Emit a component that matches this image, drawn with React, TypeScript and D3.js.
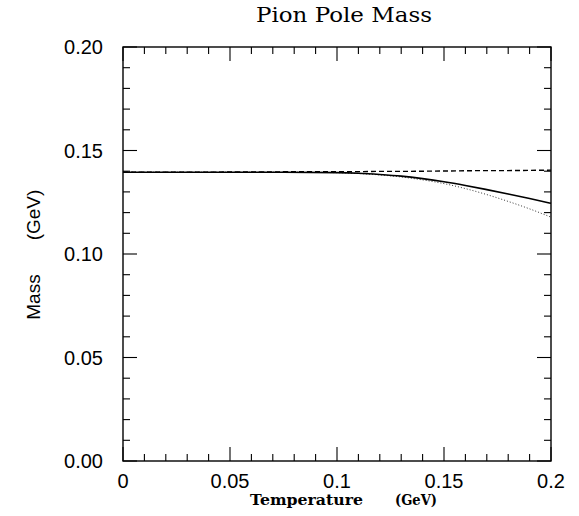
import React, { useEffect, useRef } from 'react';
import * as d3 from 'd3';

const temps = [0, 0.025, 0.05, 0.075, 0.1, 0.11, 0.12, 0.13, 0.14, 0.15, 0.16, 0.17, 0.18, 0.19, 0.2];
const solidMass = [0.1395, 0.1395, 0.1395, 0.1395, 0.1393, 0.139, 0.1384, 0.1376, 0.1364, 0.1349, 0.1331, 0.1311, 0.129, 0.1268, 0.1245];
const dottedMass = [0.1395, 0.1395, 0.1395, 0.1395, 0.1393, 0.1389, 0.1382, 0.1372, 0.1358, 0.134, 0.1316, 0.1287, 0.1254, 0.1218, 0.1178];
const dashedMass = [0.1395, 0.1395, 0.1396, 0.1397, 0.1398, 0.1398, 0.1399, 0.1399, 0.14, 0.1401, 0.1402, 0.1403, 0.1403, 0.1404, 0.1405];
const xTicks = [0, 0.05, 0.1, 0.15, 0.2];
const xTickLabels = ['0', '0.05', '0.1', '0.15', '0.2'];
const yTicks = [0, 0.05, 0.1, 0.15, 0.2];
const yTickLabels = ['0.00', '0.05', '0.10', '0.15', '0.20'];

export default function App() {
  const ref = useRef<SVGSVGElement>(null);

  useEffect(() => {
    const svg = d3.select(ref.current);
    svg.selectAll('*').remove();
    const left = 123, right = 551, top = 47, bottom = 461;
    const x = d3.scaleLinear().domain([0, 0.2]).range([left, right]);
    const y = d3.scaleLinear().domain([0, 0.2]).range([bottom, top]);
    const serif = '"DejaVu Serif", "Liberation Serif", serif';
    const sans = '"Liberation Sans", Arial, sans-serif';

    // frame
    svg.append('rect')
      .attr('x', left).attr('y', top)
      .attr('width', right - left).attr('height', bottom - top)
      .attr('fill', 'none').attr('stroke', '#000').attr('stroke-width', 1.4);

    const minor = d3.range(0, 21).map(i => i * 0.01);
    const g = svg.append('g').attr('stroke', '#000').attr('stroke-width', 1.1);
    minor.forEach((v, i) => {
      const len = i % 5 === 0 ? 14 : 7;
      g.append('line').attr('x1', x(v)).attr('x2', x(v)).attr('y1', bottom).attr('y2', bottom - len);
      g.append('line').attr('x1', x(v)).attr('x2', x(v)).attr('y1', top).attr('y2', top + len);
      g.append('line').attr('y1', y(v)).attr('y2', y(v)).attr('x1', left).attr('x2', left + len);
      g.append('line').attr('y1', y(v)).attr('y2', y(v)).attr('x1', right).attr('x2', right - len);
    });

    svg.selectAll('.xl').data(xTicks).enter().append('text')
      .attr('x', d => x(d)).attr('y', 488)
      .attr('text-anchor', 'middle')
      .attr('font-family', sans)
      .attr('font-size', 20)
      .text((d, i) => xTickLabels[i]);

    svg.selectAll('.yl').data(yTicks).enter().append('text')
      .attr('x', 103).attr('y', d => y(d) + 7)
      .attr('text-anchor', 'end')
      .attr('font-family', sans)
      .attr('font-size', 20)
      .text((d, i) => yTickLabels[i]);

    const line = d3.line<number>()
      .x((d, i) => x(temps[i]))
      .y(d => y(d))
      .curve(d3.curveMonotoneX);

    svg.append('path').datum(dottedMass).attr('d', line)
      .attr('fill', 'none').attr('stroke', '#000').attr('stroke-width', 0.8)
      .attr('stroke-dasharray', '1,2');
    svg.append('path').datum(dashedMass).attr('d', line)
      .attr('fill', 'none').attr('stroke', '#000').attr('stroke-width', 1.4)
      .attr('stroke-dasharray', '5,3');
    svg.append('path').datum(solidMass).attr('d', line)
      .attr('fill', 'none').attr('stroke', '#000').attr('stroke-width', 1.6);

    svg.append('text')
      .attr('x', 256).attr('y', 22)
      .attr('font-family', serif)
      .attr('font-size', 20)
      .attr('textLength', 176)
      .attr('lengthAdjust', 'spacingAndGlyphs')
      .text('Pion Pole Mass');

    // y-axis title
    svg.append('text')
      .attr('transform', 'translate(40,297) rotate(-90)')
      .attr('text-anchor', 'middle')
      .attr('font-family', sans)
      .attr('font-size', 19)
      .text('Mass');
    svg.append('text')
      .attr('transform', 'translate(40,215) rotate(-90)')
      .attr('text-anchor', 'middle')
      .attr('font-family', sans)
      .attr('font-size', 19)
      .text('(GeV)');

    // x-axis title
    svg.append('text')
      .attr('x', 250).attr('y', 505)
      .attr('font-family', serif)
      .attr('font-weight', 'bold')
      .attr('font-size', 15)
      .attr('textLength', 113)
      .attr('lengthAdjust', 'spacingAndGlyphs')
      .text('Temperature');
    svg.append('text')
      .attr('x', 395).attr('y', 505)
      .attr('font-family', serif)
      .attr('font-weight', 'bold')
      .attr('font-size', 15)
      .attr('textLength', 42)
      .attr('lengthAdjust', 'spacingAndGlyphs')
      .text('(GeV)');
  }, []);

  return (
    <svg ref={ref} width={579} height={516}
      style={{ position: 'absolute', left: 0, top: 0, background: '#fff' }} />
  );
}
